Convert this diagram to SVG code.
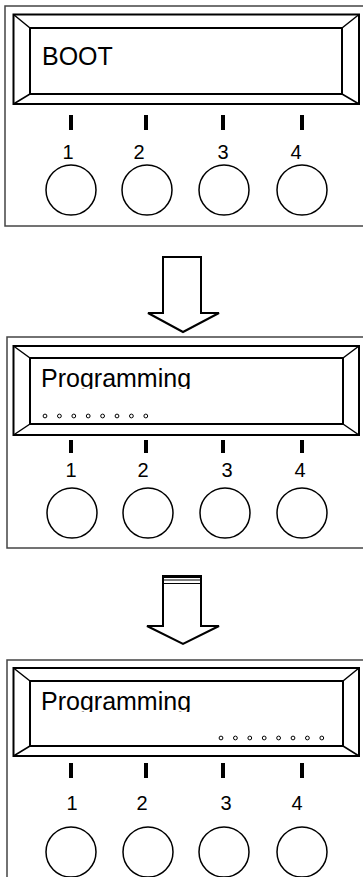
<svg xmlns="http://www.w3.org/2000/svg" width="363" height="877" viewBox="0 0 363 877">
<style>
.panel{fill:#fff;stroke:#444;stroke-width:1.5}
.disp{fill:#fff;stroke:#000;stroke-width:2}
.diag{stroke:#000;stroke-width:1.5;fill:none}
.tick{fill:#000}
.btn{fill:#fff;stroke:#000;stroke-width:1.5}
.num{font-family:"Liberation Sans",Arial,sans-serif;font-size:20px;fill:#000;text-anchor:middle}
.lcd{font-family:"Liberation Sans",Arial,sans-serif;font-size:25px;fill:#000}
.dot{fill:#fff;stroke:#000;stroke-width:1}
.arrow{fill:#fff;stroke:#000;stroke-width:2;stroke-linejoin:miter}
</style>
<defs>
<clipPath id="c2"><rect x="30" y="358" width="313" height="31"/></clipPath>
<clipPath id="c3"><rect x="30" y="681" width="313" height="31"/></clipPath>
</defs>
<rect width="363" height="877" fill="#fff"/>

<g id="panel1">
<rect class="panel" x="5" y="6" width="370" height="220"/>
<rect class="disp" x="13.5" y="14.5" width="345.5" height="89.5"/>
<rect class="disp" x="30" y="28" width="312" height="66"/>
<path class="diag" d="M13.5 14.5L30 28M359 14.5L342 28M13.5 104L30 94M359 104L342 94"/>
<text class="lcd" x="42" y="65" font-size="24">BOOT</text>
<rect class="tick" x="69" y="115" width="4" height="15"/>
<rect class="tick" x="144" y="115" width="4" height="15"/>
<rect class="tick" x="221" y="115" width="4" height="15"/>
<rect class="tick" x="300" y="115" width="4" height="15"/>
<text class="num" x="68" y="159">1</text>
<text class="num" x="139" y="159">2</text>
<text class="num" x="223" y="159">3</text>
<text class="num" x="296" y="159">4</text>
<circle class="btn" cx="71" cy="190" r="25"/>
<circle class="btn" cx="147" cy="190" r="25"/>
<circle class="btn" cx="224" cy="190" r="25"/>
<circle class="btn" cx="302" cy="190" r="25"/>
</g>

<g id="panel2">
<rect class="panel" x="7" y="337" width="370" height="211"/>
<rect class="disp" x="13.5" y="346" width="345.5" height="89"/>
<rect class="disp" x="30" y="358" width="313" height="66"/>
<path class="diag" d="M13.5 346L30 358M359 346L343 358M13.5 435L30 424M359 435L343 424"/>
<text class="lcd" x="41" y="387" clip-path="url(#c2)">Programming</text>
<g>
<circle class="dot" cx="45" cy="416" r="1.9"/>
<circle class="dot" cx="59.4" cy="416" r="1.9"/>
<circle class="dot" cx="73.8" cy="416" r="1.9"/>
<circle class="dot" cx="88.2" cy="416" r="1.9"/>
<circle class="dot" cx="102.6" cy="416" r="1.9"/>
<circle class="dot" cx="117" cy="416" r="1.9"/>
<circle class="dot" cx="131.4" cy="416" r="1.9"/>
<circle class="dot" cx="145.8" cy="416" r="1.9"/>
</g>
<rect class="tick" x="69" y="440" width="4" height="13"/>
<rect class="tick" x="144" y="440" width="4" height="13"/>
<rect class="tick" x="221" y="440" width="4" height="13"/>
<rect class="tick" x="300" y="440" width="4" height="13"/>
<text class="num" x="71" y="477">1</text>
<text class="num" x="143" y="477">2</text>
<text class="num" x="227" y="477">3</text>
<text class="num" x="300" y="477">4</text>
<circle class="btn" cx="72" cy="513" r="25"/>
<circle class="btn" cx="148" cy="513" r="25"/>
<circle class="btn" cx="225" cy="513" r="25"/>
<circle class="btn" cx="302" cy="513" r="25"/>
</g>

<g id="panel3">
<rect class="panel" x="7" y="660" width="370" height="240"/>
<rect class="disp" x="13.5" y="668" width="345.5" height="88"/>
<rect class="disp" x="30" y="681" width="313" height="65"/>
<path class="diag" d="M13.5 668L30 681M359 668L343 681M13.5 756L30 746M359 756L343 746"/>
<text class="lcd" x="41" y="710" clip-path="url(#c3)">Programming</text>
<g>
<circle class="dot" cx="221" cy="738" r="1.9"/>
<circle class="dot" cx="235.4" cy="738" r="1.9"/>
<circle class="dot" cx="249.8" cy="738" r="1.9"/>
<circle class="dot" cx="264.2" cy="738" r="1.9"/>
<circle class="dot" cx="278.6" cy="738" r="1.9"/>
<circle class="dot" cx="293" cy="738" r="1.9"/>
<circle class="dot" cx="307.4" cy="738" r="1.9"/>
<circle class="dot" cx="321.8" cy="738" r="1.9"/>
</g>
<rect class="tick" x="69" y="763" width="4" height="15"/>
<rect class="tick" x="144" y="763" width="4" height="15"/>
<rect class="tick" x="221" y="763" width="4" height="15"/>
<rect class="tick" x="300" y="763" width="4" height="15"/>
<text class="num" x="72" y="810">1</text>
<text class="num" x="142" y="810">2</text>
<text class="num" x="226" y="810">3</text>
<text class="num" x="297" y="810">4</text>
<circle class="btn" cx="71" cy="852" r="25"/>
<circle class="btn" cx="148" cy="852" r="25"/>
<circle class="btn" cx="224" cy="852" r="25"/>
<circle class="btn" cx="302" cy="852" r="25"/>
</g>

<g id="connectors">
<polygon class="arrow" points="163,257 201,257 201,313 219,313 183,332 148,313 163,313"/>
<polygon class="arrow" points="163,576 201,576 201,626 219,626 183,644 147,626 163,626"/>
<rect x="163" y="575" width="38" height="3" fill="#000"/>
<line x1="163" y1="580" x2="201" y2="580" stroke="#000" stroke-width="1.2"/>
<line x1="163" y1="583.5" x2="201" y2="583.5" stroke="#000" stroke-width="1.2"/>
</g>
</svg>
